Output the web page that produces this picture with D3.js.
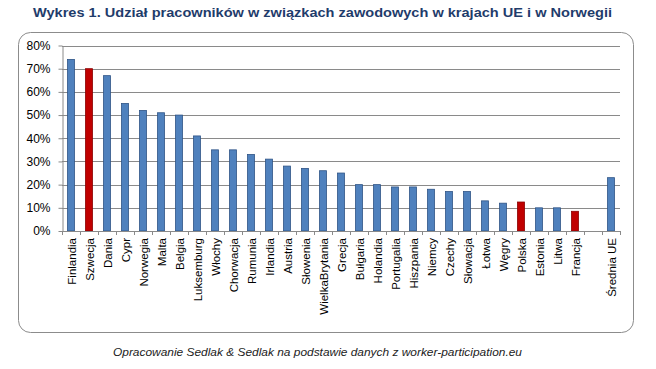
<!DOCTYPE html>
<html>
<head>
<meta charset="utf-8">
<script src="https://cdn.jsdelivr.net/npm/d3@7"></script>
<style>
  body { margin: 0; background: #fff; }
  svg { display: block; }
</style>
</head>
<body>
<div id="chart"></div>
<script>
// countries, share of unionised workers (%)
const countries = ["Finlandia", "Szwecja", "Dania", "Cypr", "Norwegia", "Malta", "Belgia", "Luksemburg",
  "Włochy", "Chorwacja", "Rumunia", "Irlandia", "Austria", "Słowenia", "WielkaBrytania", "Grecja",
  "Bułgaria", "Holandia", "Portugalia", "Hiszpania", "Niemcy", "Czechy", "Słowacja", "Łotwa",
  "Węgry", "Polska", "Estonia", "Litwa", "Francja", "", "Średnia UE"];
const values = [74, 70, 67, 55, 52, 51, 50, 41, 35, 35, 33, 31, 28, 27, 26, 25,
  20, 20, 19, 19, 18, 17, 17, 13, 12, 12.5, 10, 10, 8.5, null, 23];
const highlighted = ["Szwecja", "Polska", "Francja"];
const yTicks = [0, 10, 20, 30, 40, 50, 60, 70, 80];

const width = 656, height = 369;
const svg = d3.select("#chart").append("svg")
    .attr("width", width)
    .attr("height", height);

// title
svg.append("text")
    .attr("x", 33)
    .attr("y", 17)
    .attr("font-family", "Liberation Sans, Arial, sans-serif")
    .attr("font-weight", "bold")
    .attr("font-size", 13.5)
    .attr("fill", "#1f3c6b")
    .attr("textLength", 579)
    .attr("lengthAdjust", "spacingAndGlyphs")
    .text("Wykres 1. Udział pracowników w związkach zawodowych w krajach UE i w Norwegii");

// chart frame
svg.append("rect")
    .attr("x", 18.5).attr("y", 32.5)
    .attr("width", 615).attr("height", 300)
    .attr("rx", 12).attr("ry", 12)
    .attr("fill", "#fff")
    .attr("stroke", "#8c8c8c");

const x = d3.scaleBand()
    .domain(d3.range(countries.length))
    .range([62, 620]);

const y = d3.scaleLinear()
    .domain([0, 80])
    .range([231, 45.5]);

// grid
svg.append("g")
    .attr("stroke", "#8a8a8a")
  .selectAll("line")
  .data(yTicks.filter(d => d > 0))
  .join("line")
    .attr("x1", 62).attr("x2", 620)
    .attr("y1", d => Math.round(y(d)) + 0.5)
    .attr("y2", d => Math.round(y(d)) + 0.5);

// bars
svg.append("g")
  .selectAll("rect")
  .data(values.map((v, i) => ({name: countries[i], value: v, i})).filter(d => d.value != null))
  .join("rect")
    .attr("x", d => x(d.i) + x.bandwidth() / 2 - 3.5)
    .attr("y", d => y(d.value))
    .attr("width", 7)
    .attr("height", d => y(0) - y(d.value))
    .attr("fill", d => highlighted.includes(d.name) ? "#c00000" : "#4f81bd")
    .attr("stroke", d => highlighted.includes(d.name) ? "#8b0000" : "#2f5486")
    .attr("stroke-width", 0.8);

// y axis
const yAxis = svg.append("g")
    .attr("transform", "translate(62.5,0)")
    .call(d3.axisLeft(y).tickValues(yTicks).tickFormat(d => d + "%").tickSize(4).tickSizeOuter(0));
yAxis.select(".domain").attr("stroke", "#8a8a8a");
yAxis.selectAll(".tick line").attr("stroke", "#8a8a8a");
yAxis.selectAll("text")
    .attr("x", -12)
    .attr("font-family", "Liberation Sans, Arial, sans-serif")
    .attr("font-size", 12)
    .attr("fill", "#000");

// x axis line + ticks between categories
const xg = svg.append("g");
xg.append("line")
    .attr("x1", 62).attr("x2", 620)
    .attr("y1", 231.5).attr("y2", 231.5)
    .attr("stroke", "#8a8a8a");
xg.selectAll("line.tk")
  .data(d3.range(countries.length + 1))
  .join("line")
    .attr("class", "tk")
    .attr("x1", i => Math.round(62 + i * x.step()) + 0.5)
    .attr("x2", i => Math.round(62 + i * x.step()) + 0.5)
    .attr("y1", 231)
    .attr("y2", 235)
    .attr("stroke", "#8a8a8a");

// category labels, rotated
xg.selectAll("text")
  .data(countries.map((c, i) => ({c, i})).filter(d => d.c))
  .join("text")
    .attr("transform", d => `translate(${x(d.i) + x.bandwidth() / 2 + 4.5},238) rotate(-90)`)
    .attr("text-anchor", "end")
    .attr("font-family", "Liberation Sans, Arial, sans-serif")
    .attr("font-size", 11.5)
    .attr("fill", "#000")
    .text(d => d.c);

// source note
svg.append("text")
    .attr("x", 113)
    .attr("y", 356)
    .attr("font-family", "Liberation Sans, Arial, sans-serif")
    .attr("font-style", "italic")
    .attr("font-size", 11)
    .attr("fill", "#222")
    .attr("textLength", 409)
    .attr("lengthAdjust", "spacingAndGlyphs")
    .text("Opracowanie Sedlak & Sedlak na podstawie danych z worker-participation.eu");
</script>
</body>
</html>
